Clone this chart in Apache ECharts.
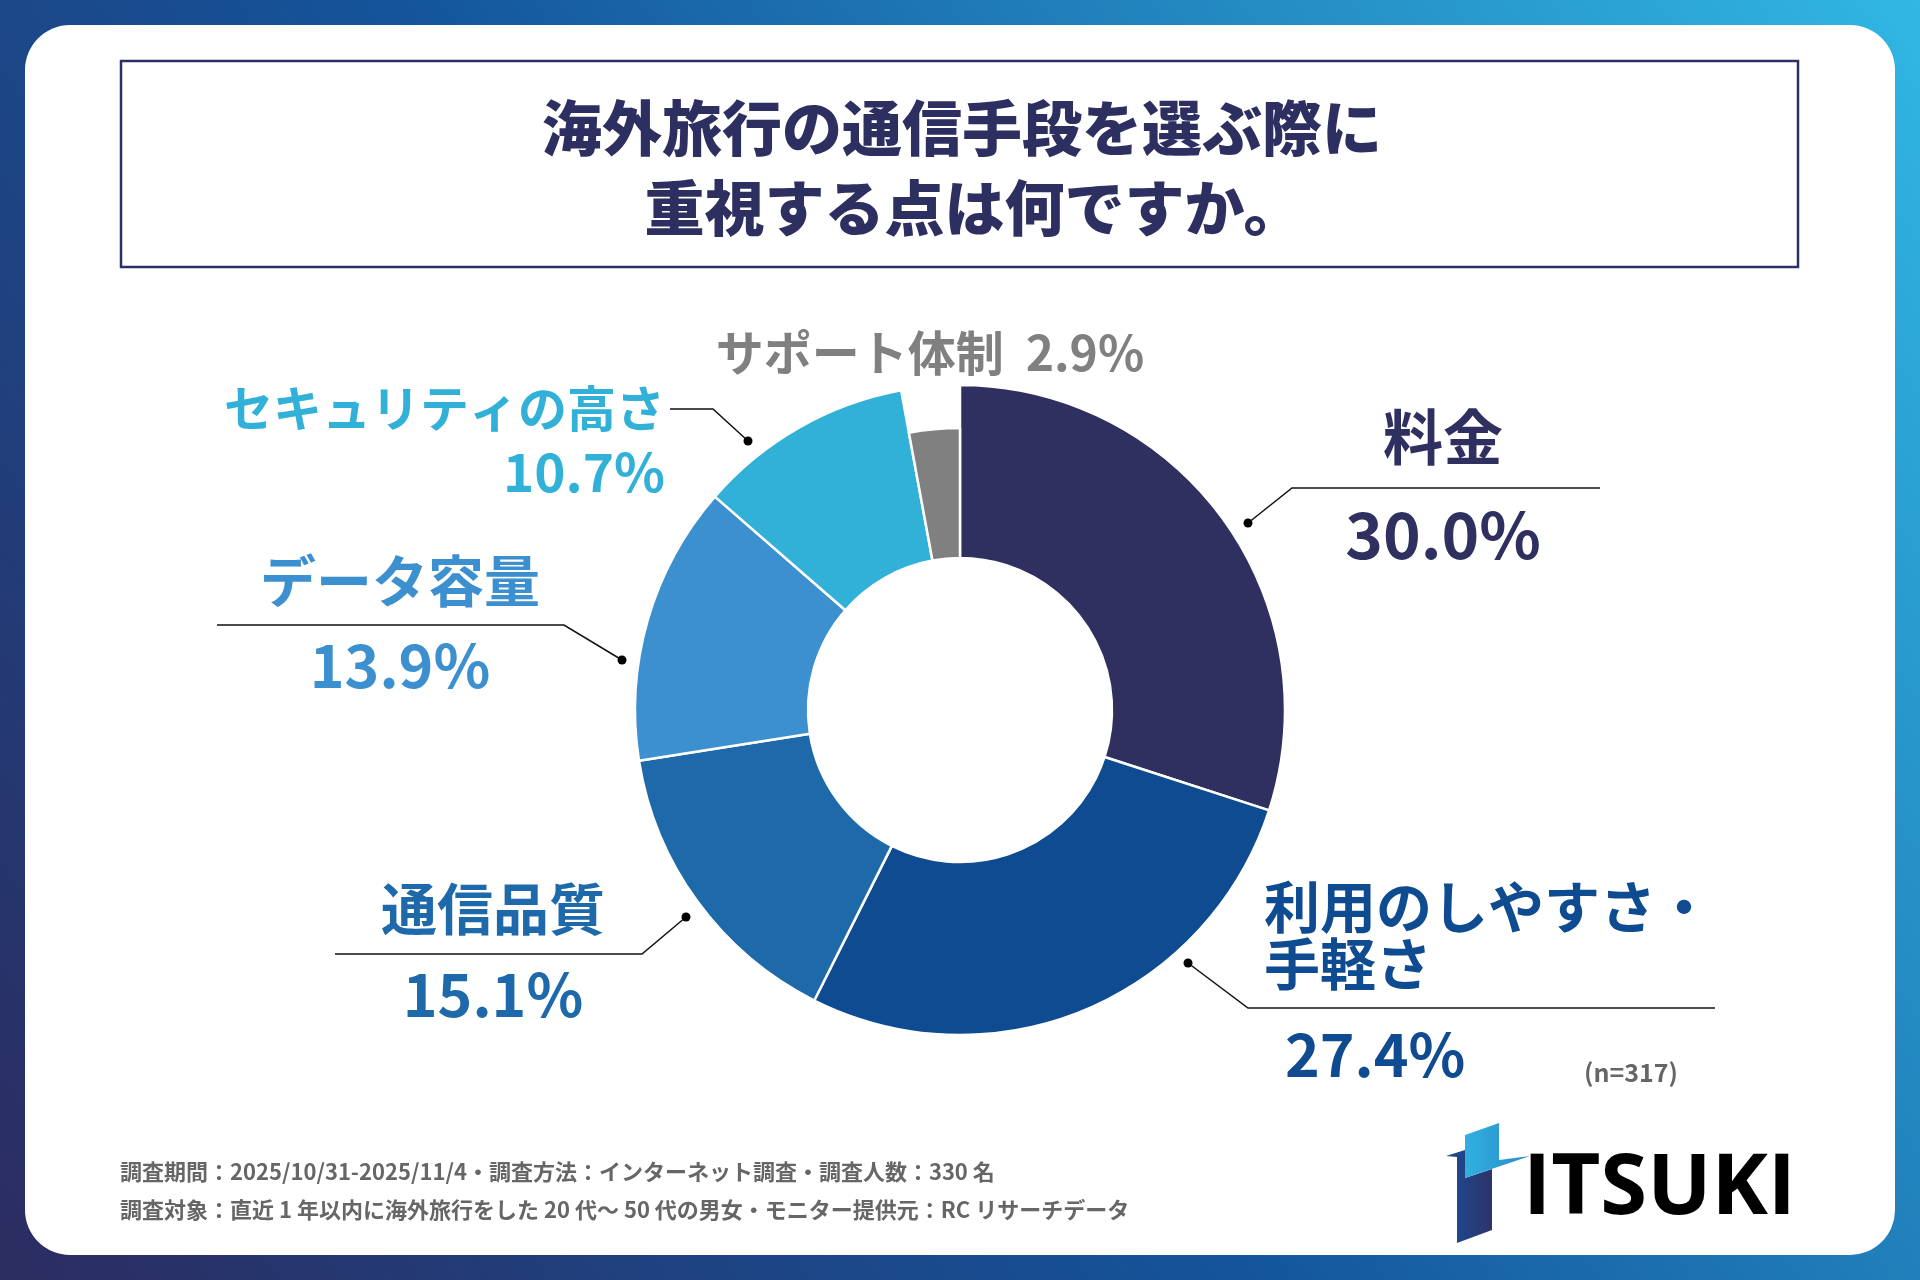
<!DOCTYPE html>
<html>
<head>
<meta charset="utf-8">
<title>海外旅行の通信手段を選ぶ際に重視する点</title>
<script src="https://cdn.jsdelivr.net/npm/echarts@6/dist/echarts.min.js"></script>
<style>
  html, body { margin: 0; padding: 0; background: #fff; }
  #chart { width: 1920px; height: 1280px; }
</style>
</head>
<body>
<div id="chart"></div>
<script>
// data
var categories = ['料金', '利用のしやすさ・\n手軽さ', '通信品質', 'データ容量', 'セキュリティの高さ', 'サポート体制'];
var shares = [30.0, 27.4, 15.1, 13.9, 10.7, 2.9];
var sliceColors = ['#2f2f60', '#0e4b91', '#1e69aa', '#3d90cf', '#31b1d7', '#808080'];
var sampleSize = 317;
var titleLines = ['海外旅行の通信手段を選ぶ際に', '重視する点は何ですか。'];
var footnotes = [
    '調査期間：2025/10/31-2025/11/4・調査方法：インターネット調査・調査人数：330 名',
    '調査対象：直近 1 年以内に海外旅行をした 20 代～ 50 代の男女・モニター提供元：RC リサーチデータ'
];

// where each label sits (pixels), kept apart from the data
var labelSpots = [
    {x: 1443, y: 388, align: 'center', nameSize: 60, pctSize: 64, nameLH: 98, pctLH: 98, pad: 0,
        line: [[1248, 523], [1292, 488], [1600, 488]]},
    {x: 1264, y: 878, align: 'left', nameSize: 56, pctSize: 59, nameLH: 57, pctLH: 125, pad: 21,
        line: [[1188, 963], [1248, 1008], [1715, 1008]]},
    {x: 493, y: 866, align: 'center', nameSize: 56, pctSize: 59, nameLH: 86, pctLH: 86, pad: 0,
        line: [[686, 917], [642, 954], [335, 954]]},
    {x: 400, y: 538, align: 'center', nameSize: 56, pctSize: 59, nameLH: 85, pctLH: 85, pad: 0,
        line: [[622, 660], [564, 625], [217, 625]]},
    {x: 665, y: 376, align: 'right', nameSize: 49, pctSize: 53, nameLH: 64, pctLH: 64, pad: 0,
        line: [[748, 441], [713, 409], [670, 409]]}
];
var graySpot = {x: 930, y: 353, size: 48};
var titleSpots = [{x: 962, y: 92}, {x: 974, y: 172}];
var FONT = '"Noto Sans CJK JP", "Noto Sans", sans-serif';
var GRAY = shares.length - 1;

function pct(v) {
    return v.toFixed(1) + '%';
}

// rich styles, one pair per labelled slice
var rich = {};
labelSpots.forEach(function (s, i) {
    rich['n' + i] = {fontSize: s.nameSize, lineHeight: s.nameLH, fontWeight: 'bold', fontFamily: FONT,
        color: sliceColors[i], align: s.align};
    rich['p' + i] = {fontSize: s.pctSize, lineHeight: s.pctLH, fontWeight: 'bold', fontFamily: FONT,
        color: sliceColors[i], align: s.align, padding: [0, 0, 0, s.pad]};
});

var hidden = {color: 'transparent', borderWidth: 0};

// outer ring: every slice but the small grey one
var mainData = shares.map(function (v, i) {
    var item = {name: categories[i], value: v, itemStyle: {color: sliceColors[i]}};
    if (i === GRAY) {
        item.itemStyle = hidden;
        item.label = {show: false};
        item.labelLine = {show: false};
    }
    return item;
});

// shorter ring holding only the grey slice
var grayData = shares.map(function (v, i) {
    var item = {name: categories[i], value: v, itemStyle: {color: sliceColors[i]}};
    if (i !== GRAY) {
        item.itemStyle = hidden;
        item.label = {show: false};
        item.labelLine = {show: false};
    }
    return item;
});

var graphics = [
    {
        type: 'rect', z: -10, silent: true,
        shape: {x: 0, y: 0, width: 1920, height: 1280},
        style: {
            fill: new echarts.graphic.LinearGradient(0, 1, 1, 0, [
                {offset: 0, color: '#2c2c60'},
                {offset: 0.45, color: '#14549b'},
                {offset: 1, color: '#31b7e3'}
            ])
        }
    },
    {
        type: 'rect', z: -9, silent: true,
        shape: {x: 25, y: 25, width: 1870, height: 1230, r: 45},
        style: {fill: '#ffffff'}
    },
    {
        type: 'rect', z: -8, silent: true,
        shape: {x: 121, y: 61, width: 1677, height: 206},
        style: {fill: 'none', stroke: '#2e2f63', lineWidth: 2.5}
    },
    {
        type: 'text', silent: true, x: 1631, y: 1072,
        style: {text: '(n=' + sampleSize + ')', fill: '#666666', fontSize: 25, fontWeight: 'bold', fontFamily: FONT,
            textAlign: 'center', textVerticalAlign: 'middle'}
    }
];

footnotes.forEach(function (t, i) {
    graphics.push({
        type: 'text', silent: true, x: 120, y: 1172 + i * 38,
        style: {text: t, fill: '#666666', fontSize: 22, fontWeight: 'bold', fontFamily: FONT,
            textAlign: 'left', textVerticalAlign: 'middle'}
    });
});

// dots at the start of each leader line
labelSpots.forEach(function (s) {
    graphics.push({
        type: 'circle', z: 100, silent: true,
        shape: {cx: s.line[0][0], cy: s.line[0][1], r: 4.5},
        style: {fill: '#000000'}
    });
});

// ITSUKI logo
graphics.push({
    type: 'polygon', silent: true,
    shape: {points: [[1446, 1156], [1465, 1150], [1465, 1178], [1492, 1169], [1492, 1230], [1457, 1243], [1457, 1157]]},
    style: {fill: new echarts.graphic.LinearGradient(0, 0, 1, 0, [
        {offset: 0, color: '#1b4c98'}, {offset: 1, color: '#2d3367'}])}
});
graphics.push({
    type: 'polygon', silent: true,
    shape: {points: [[1465, 1135], [1499, 1123], [1499, 1160], [1530, 1156], [1465, 1178]]},
    style: {fill: new echarts.graphic.LinearGradient(0, 0, 1, 0, [
        {offset: 0, color: '#31b0df'}, {offset: 1, color: '#278ccb'}])}
});
graphics.push({
    type: 'text', silent: true, x: 1523, y: 1190,
    style: {text: 'ITSUKI', fontSize: 85, fontWeight: 'bold', fontFamily: '"Open Sans", Roboto, sans-serif',
        textAlign: 'left', textVerticalAlign: 'middle',
        fill: new echarts.graphic.LinearGradient(0, 0, 1, 0, [
            {offset: 0, color: '#1b4c98'}, {offset: 0.5, color: '#2d3367'}, {offset: 0.8, color: '#17509a'},
            {offset: 1, color: '#2d3367'}])}
});

var chart = echarts.init(document.getElementById('chart'));

var option = {
    animation: false,
    title: titleLines.map(function (t, i) {
        return {
            text: t,
            left: titleSpots[i].x,
            top: titleSpots[i].y,
            textAlign: 'center',
            padding: 0,
            textStyle: {fontSize: 60, lineHeight: 72, fontWeight: 900, fontFamily: FONT, color: '#2e2f61'}
        };
    }),
    graphic: graphics,
    series: [
        {
            type: 'pie',
            center: [960, 710],
            radius: [152, 325],
            startAngle: 90,
            clockwise: true,
            silent: true,
            avoidLabelOverlap: false,
            itemStyle: {borderColor: '#ffffff', borderWidth: 2.5},
            label: {
                show: true,
                position: 'outside',
                formatter: function (p) {
                    return '{n' + p.dataIndex + '|' + p.name + '}\n{p' + p.dataIndex + '|' + pct(p.value) + '}';
                },
                rich: rich
            },
            labelLine: {show: true, smooth: false, lineStyle: {color: '#111111', width: 1.5}},
            labelLayout: function (p) {
                var s = labelSpots[p.dataIndex];
                if (!s) {
                    return {};
                }
                return {x: s.x, y: s.y, align: s.align, verticalAlign: 'top', labelLinePoints: s.line};
            },
            data: mainData
        },
        {
            type: 'pie',
            center: [960, 710],
            radius: [152, 282],
            startAngle: 90,
            clockwise: true,
            silent: true,
            avoidLabelOverlap: false,
            z: 3,
            itemStyle: {borderColor: '#ffffff', borderWidth: 2.5},
            label: {
                show: true,
                position: 'outside',
                formatter: function (p) {
                    return p.name + '  ' + pct(p.value);
                },
                fontSize: graySpot.size,
                fontWeight: 'bold',
                fontFamily: FONT,
                color: sliceColors[GRAY]
            },
            labelLine: {show: false},
            labelLayout: function () {
                return {x: graySpot.x, y: graySpot.y, align: 'center', verticalAlign: 'middle'};
            },
            data: grayData
        }
    ]
};

chart.setOption(option);
</script>
</body>
</html>
